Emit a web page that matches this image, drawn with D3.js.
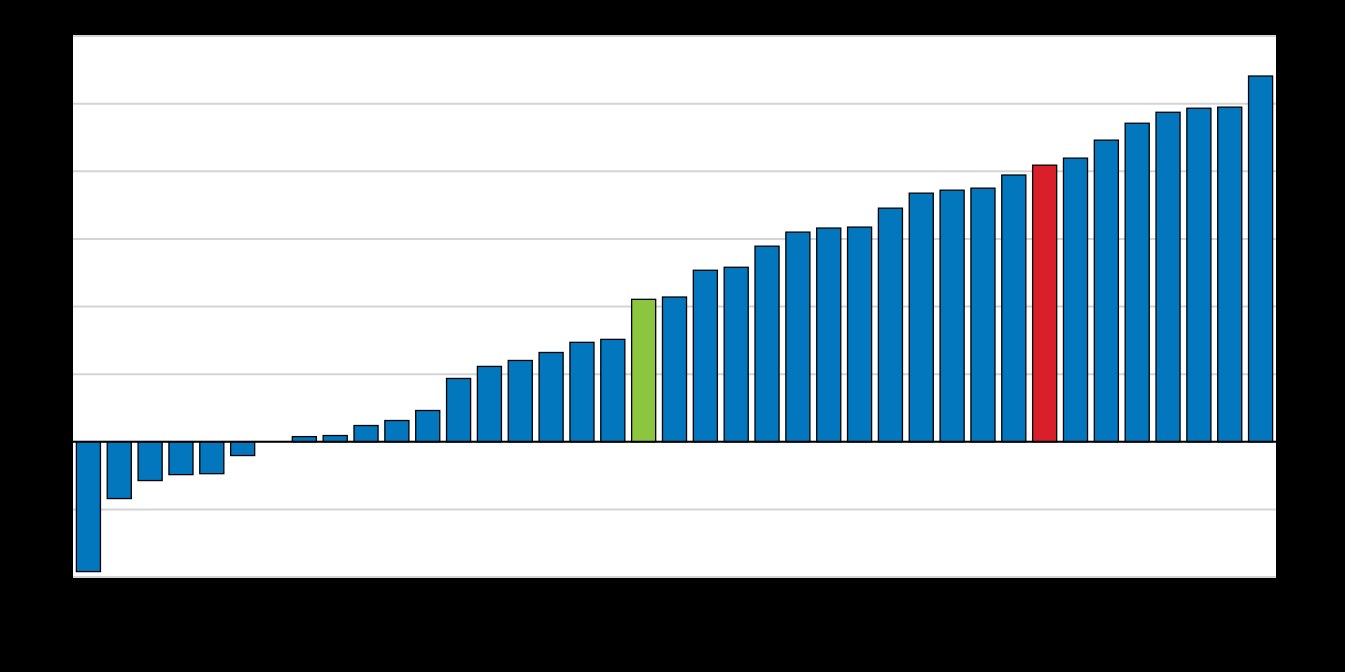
<!DOCTYPE html>
<html>
<head>
<meta charset="utf-8">
<script src="https://cdn.jsdelivr.net/npm/d3@7"></script>
<style>
  html, body { margin: 0; padding: 0; background: #000; }
  svg { display: block; }
</style>
</head>
<body>
<svg id="chart" width="1345" height="672"></svg>
<script>
const categories = ["C01","C02","C03","C04","C05","C06","C07","C08","C09","C10",
  "C11","C12","C13","C14","C15","C16","C17","C18","C19","C20",
  "C21","C22","C23","C24","C25","C26","C27","C28","C29","C30",
  "C31","C32","C33","C34","C35","C36","C37","C38","C39"];
const values = [-9.6, -4.2, -2.87, -2.43, -2.36, -1.02, 0, 0.38, 0.46, 1.2,
  1.57, 2.31, 4.68, 5.57, 6.01, 6.6, 7.35, 7.57, 10.53, 10.7,
  12.68, 12.9, 14.46, 15.5, 15.8, 15.87, 17.27, 18.38, 18.6, 18.75,
  19.72, 20.45, 20.97, 22.3, 23.55, 24.36, 24.66, 24.74, 27.04];
const highlightGreen = "C19";
const highlightRed = "C32";
const yTicks = [-10, -5, 0, 5, 10, 15, 20, 25, 30];

const svg = d3.select("#chart");
const margin = { left: 73, right: 69, top: 36, bottom: 95 };
const W = 1345, H = 672;
const x = d3.scaleBand().domain(categories).range([margin.left, W - margin.right]).paddingInner(0.22).paddingOuter(0.11);
const y = d3.scaleLinear().domain([-10, 30]).range([H - margin.bottom, margin.top]);

svg.append("rect").attr("x", margin.left).attr("y", margin.top)
  .attr("width", W - margin.left - margin.right).attr("height", H - margin.top - margin.bottom)
  .attr("fill", "#fff");

svg.append("g").selectAll("line").data(yTicks).join("line")
  .attr("x1", margin.left).attr("x2", W - margin.right)
  .attr("y1", d => y(d)).attr("y2", d => y(d))
  .attr("stroke", "#d4d4d4").attr("stroke-width", 2);

const yAxis = svg.append("g").attr("transform", `translate(${margin.left},0)`)
  .call(d3.axisLeft(y).tickValues(yTicks).tickSize(0).tickPadding(8));
yAxis.select(".domain").remove();
yAxis.selectAll("text").attr("fill", "#000").style("font-family", "Arial, Liberation Sans, sans-serif").style("font-size", "13px");

svg.append("g").selectAll("rect").data(categories).join("rect")
  .attr("x", d => x(d))
  .attr("width", x.bandwidth())
  .attr("y", (d, i) => y(Math.max(0, values[i])))
  .attr("height", (d, i) => Math.abs(y(values[i]) - y(0)))
  .attr("fill", d => d === highlightGreen ? "#8cc63f" : d === highlightRed ? "#d9202a" : "#0277be")
  .attr("stroke", "#000").attr("stroke-width", 1.3);

svg.append("line").attr("x1", margin.left).attr("x2", W - margin.right)
  .attr("y1", y(0)).attr("y2", y(0)).attr("stroke", "#000").attr("stroke-width", 2);

const xAxis = svg.append("g").attr("transform", `translate(0,${H - margin.bottom})`)
  .call(d3.axisBottom(x).tickSize(0).tickPadding(10));
xAxis.select(".domain").remove();
xAxis.selectAll("text").attr("fill", "#000").style("font-family", "Arial, Liberation Sans, sans-serif").style("font-size", "12px");
</script>
</body>
</html>
